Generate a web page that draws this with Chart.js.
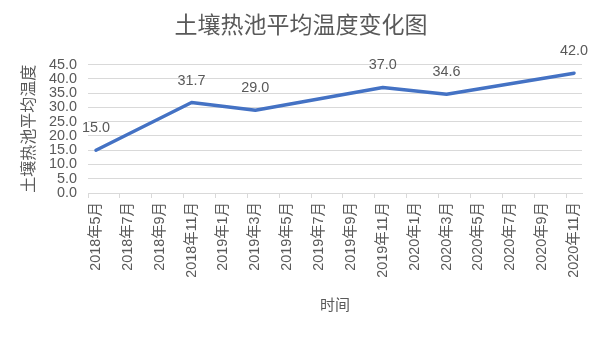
<!DOCTYPE html>
<html>
<head>
<meta charset="utf-8">
<script src="https://cdn.jsdelivr.net/npm/chart.js@4/dist/chart.umd.min.js"></script>
<style>
  html, body { margin: 0; padding: 0; background: #fff; }
  #wrap { width: 602px; height: 339px; }
</style>
</head>
<body>
<div id="wrap"><canvas id="chartCanvas" width="602" height="339"></canvas></div>
<script>
// monthly axis, one slot per month
const months = [
  "2018年5月", "2018年6月", "2018年7月", "2018年8月", "2018年9月", "2018年10月",
  "2018年11月", "2018年12月", "2019年1月", "2019年2月", "2019年3月", "2019年4月",
  "2019年5月", "2019年6月", "2019年7月", "2019年8月", "2019年9月", "2019年10月",
  "2019年11月", "2019年12月", "2020年1月", "2020年2月", "2020年3月", "2020年4月",
  "2020年5月", "2020年6月", "2020年7月", "2020年8月", "2020年9月", "2020年10月",
  "2020年11月"
];

// measured points
const sampleMonths = ["2018年5月", "2018年11月", "2019年3月", "2019年11月", "2020年3月", "2020年11月"];
const sampleValues = [15.0, 31.7, 29.0, 37.0, 34.6, 42.0];

const yTicks = [0, 5, 10, 15, 20, 25, 30, 35, 40, 45];

const FONT = "'Liberation Sans', 'Noto Sans CJK SC', sans-serif";
const TEXT = "#595959";
const GRID = "#d9d9d9";
const NUM_SIZE = 14.4;

const series = months.map(m => {
  const i = sampleMonths.indexOf(m);
  return i < 0 ? null : sampleValues[i];
});

// value labels above each measured point
const valueLabels = {
  id: "valueLabels",
  afterDatasetsDraw(chart) {
    const ctx = chart.ctx;
    const meta = chart.getDatasetMeta(0);
    ctx.save();
    ctx.font = NUM_SIZE + "px " + FONT;
    ctx.fillStyle = TEXT;
    ctx.textAlign = "center";
    ctx.textBaseline = "middle";
    meta.data.forEach((pt, i) => {
      const v = series[i];
      if (v === null) return;
      ctx.fillText(v.toFixed(1), pt.x, pt.y - 22);
    });
    ctx.restore();
  }
};

const ctx = document.getElementById("chartCanvas").getContext("2d");
const chart = new Chart(ctx, {
  type: "line",
  data: {
    labels: months,
    datasets: [{
      data: series,
      borderColor: "#4472c4",
      borderWidth: 3.5,
      borderCapStyle: "round",
      borderJoinStyle: "round",
      pointRadius: 0,
      spanGaps: true,
      tension: 0
    }]
  },
  options: {
    animation: false,
    responsive: false,
    layout: { padding: { left: 10, right: 10, top: 0, bottom: 0 } },
    plugins: {
      legend: { display: false },
      tooltip: { enabled: false },
      title: {
        display: true,
        text: "土壤热池平均温度变化图",
        color: TEXT,
        font: { family: FONT, size: 23, weight: "normal" },
        padding: { top: 13, bottom: 24 }
      }
    },
    scales: {
      x: {
        type: "category",
        offset: true,
        afterFit(scale) { scale.height = 146; },
        border: { display: true, color: GRID, width: 1 },
        grid: {
          offset: true,
          drawOnChartArea: false,
          drawTicks: true,
          tickLength: 5,
          color: c => (c.index !== undefined && c.index % 2 === 0) ? GRID : "rgba(0,0,0,0)"
        },
        ticks: {
          autoSkip: false,
          minRotation: 90,
          maxRotation: 90,
          padding: 4,
          color: TEXT,
          font: { family: FONT, size: NUM_SIZE },
          callback: (v, i) => (i % 2 === 0 ? months[i] : "")
        },
        title: {
          display: true,
          text: "时间",
          color: TEXT,
          font: { family: FONT, size: 15 },
          padding: { top: 0, bottom: 24 }
        }
      },
      y: {
        min: 0,
        max: 45,
        afterFit(scale) { scale.width = 78; },
        afterBuildTicks(scale) { scale.ticks = yTicks.map(v => ({ value: v })); },
        border: { display: false },
        grid: { color: GRID, drawTicks: false },
        ticks: {
          autoSkip: false,
          padding: 11,
          color: TEXT,
          font: { family: FONT, size: NUM_SIZE },
          callback: v => Number(v).toFixed(1)
        },
        title: {
          display: true,
          text: "土壤热池平均温度",
          color: TEXT,
          font: { family: FONT, size: 16 },
          padding: { top: 10, bottom: 0 }
        }
      },
      // empty strip on the right so the plot ends short of the title's centre line
      yRight: {
        position: "right",
        afterFit(scale) { scale.width = 10; },
        border: { display: false },
        grid: { display: false, drawTicks: false },
        ticks: { display: false }
      }
    }
  },
  plugins: [valueLabels]
});
</script>
</body>
</html>
